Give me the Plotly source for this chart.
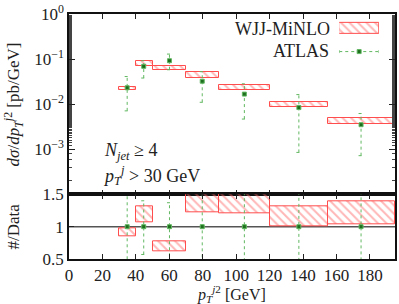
import plotly.graph_objects as go

# ---------------- data ----------------
bin_lo = [30, 40, 50, 70, 90, 120, 155]
bin_hi = [40, 50, 70, 90, 120, 155, 195]
theory_lo = [0.0202, 0.0713, 0.0562, 0.0389, 0.0202, 0.00855, 0.00363]
theory_hi = [0.0235, 0.0904, 0.0713, 0.0526, 0.0269, 0.0114, 0.00498]

data_x = [34.8, 44.7, 60.1, 79.7, 104.9, 137.5, 174.7]
data_y = [0.0231, 0.069, 0.092, 0.0323, 0.0167, 0.0084, 0.0035]
data_lo = [0.0071, 0.038, 0.058, 0.011, 0.00467, 0.00085, 0.00072]
data_hi = [0.041, 0.092, 0.129, 0.0526, 0.0283, 0.0163, 0.0062]

ratio_lo = [0.85, 1.06, 0.62, 1.22, 1.20, 1.00, 1.04]
ratio_hi = [0.97, 1.31, 0.78, 1.63, 1.61, 1.31, 1.39]
ratio_data = [1, 1, 1, 1, 1, 1, 1]
ratio_err_lo = [0.31, 0.57, 0.45, 0.34, 0.28, 0.10, 0.20]
ratio_err_hi = [1.77, 1.40, 1.37, 1.63, 1.69, 1.94, 1.77]

top_tickvals = [1e-3, 1e-2, 1e-1, 1]
top_ticktext = ["10<sup>−3</sup>", "10<sup>−2</sup>", "10<sup>−1</sup>", "10<sup>0</sup>"]
ratio_tickvals = [0.5, 1, 1.5]
ratio_ticktext = ["0.5", "1", "1.5"]
x_tickvals = [0, 20, 40, 60, 80, 100, 120, 140, 160, 180]

# ---------------- style ----------------
FONT = "Liberation Serif"
RED = "#ff4d4d"
HATCH = "#ff6e6e"
GREEN_LINE = "#62b862"
GREEN_MARK = "#1d6e1d"
CAP = 1.5

centers = [(a + b) / 2 for a, b in zip(bin_lo, bin_hi)]
widths = [b - a for a, b in zip(bin_lo, bin_hi)]

PATTERN = dict(shape="\\", fgcolor=HATCH, bgcolor="rgba(0,0,0,0)",
               size=6, solidity=0.33, fillmode="overlay")


def hatched_bar(base, top, xa, ya):
    return go.Bar(
        x=centers, y=[t - b for b, t in zip(base, top)], base=base, width=widths,
        xaxis=xa, yaxis=ya, showlegend=False, hoverinfo="skip",
        marker=dict(color="rgba(0,0,0,0)", line=dict(color=RED, width=1), pattern=PATTERN),
    )


def err_lines(xs, lo, hi, xa, ya):
    ex, ey = [], []
    for x, l, h in zip(xs, lo, hi):
        ex += [x, x, None, x - CAP, x + CAP, None, x - CAP, x + CAP, None]
        ey += [l, h, None, l, l, None, h, h, None]
    return go.Scatter(x=ex, y=ey, mode="lines", xaxis=xa, yaxis=ya,
                      line=dict(color=GREEN_LINE, width=1, dash="dot"),
                      showlegend=False, hoverinfo="skip")


def markers(xs, ys, xa, ya):
    return go.Scatter(x=xs, y=ys, mode="markers", xaxis=xa, yaxis=ya,
                      marker=dict(symbol="square", size=4, color=GREEN_MARK,
                                  line=dict(color=GREEN_LINE, width=1)),
                      showlegend=False, hoverinfo="skip")


fig = go.Figure()
# top panel
fig.add_trace(hatched_bar(theory_lo, theory_hi, "x", "y"))
fig.add_trace(err_lines(data_x, data_lo, data_hi, "x", "y"))
fig.add_trace(markers(data_x, data_y, "x", "y"))
# ratio panel
fig.add_trace(hatched_bar(ratio_lo, ratio_hi, "x2", "y2"))
fig.add_trace(err_lines(data_x, ratio_err_lo, ratio_err_hi, "x2", "y2"))
fig.add_trace(markers(data_x, ratio_data, "x2", "y2"))

# legend samples on a helper axis
fig.add_trace(go.Bar(x=[0.5], y=[0.314], base=[0.629], width=[1], xaxis="x3", yaxis="y3",
                     showlegend=False, hoverinfo="skip",
                     marker=dict(color="rgba(0,0,0,0)", line=dict(color=RED, width=1), pattern=PATTERN)))
fig.add_trace(go.Scatter(x=[0, 1, None, 0, 0, None, 1, 1], y=[0.123, 0.123, None, 0.08, 0.17, None, 0.08, 0.17],
                         mode="lines", xaxis="x3", yaxis="y3",
                         line=dict(color=GREEN_LINE, width=1, dash="dot"),
                         showlegend=False, hoverinfo="skip"))
fig.add_trace(go.Scatter(x=[0.5], y=[0.123], mode="markers", xaxis="x3", yaxis="y3",
                         marker=dict(symbol="square", size=4, color=GREEN_MARK,
                                     line=dict(color=GREEN_LINE, width=1)),
                         showlegend=False, hoverinfo="skip"))

TOP_DOM = [0.264, 1.0]
BOT_DOM = [0.0, 0.264]
tickfont = dict(family=FONT, size=17, color="#222")

common_x = dict(range=[0, 195], tickvals=x_tickvals, ticks="inside", ticklen=5,
                tickcolor="#222", showline=True, linecolor="#111", linewidth=1.5,
                mirror="allticks", showgrid=False, zeroline=False, tickfont=tickfont)

fig.update_layout(
    width=399, height=304,
    margin=dict(l=69, r=2, t=13, b=45),
    paper_bgcolor="white", plot_bgcolor="white",
    barmode="overlay", bargap=0,
    showlegend=False,
    xaxis=dict(**common_x, anchor="y", showticklabels=False, matches="x2"),
    xaxis2=dict(**common_x, anchor="y2"),
    yaxis=dict(type="log", domain=TOP_DOM, range=[-4, 0], anchor="x",
               tickvals=top_tickvals, ticktext=top_ticktext, ticks="inside", ticklen=6,
               tickcolor="#222",
               minor=dict(ticks="inside", ticklen=3, tickcolor="#444", showgrid=False),
               showline=True, linecolor="#111", linewidth=1.5, mirror="allticks",
               showgrid=False, zeroline=False, tickfont=tickfont),
    yaxis2=dict(domain=BOT_DOM, range=[0.5, 1.5], anchor="x2",
                tickvals=ratio_tickvals, ticktext=ratio_ticktext, ticks="inside", ticklen=5,
                tickcolor="#222",
                showline=True, linecolor="#111", linewidth=1.5, mirror=True,
                showgrid=False, zeroline=False, tickfont=tickfont),
    xaxis3=dict(domain=[0.829, 0.951], range=[0, 1], anchor="y3", visible=False, fixedrange=True),
    yaxis3=dict(domain=[0.829, 0.972], range=[0, 1], anchor="x3", visible=False, fixedrange=True),
    shapes=[dict(type="line", xref="x2 domain", yref="y2", x0=0, x1=1, y0=1, y1=1,
                 line=dict(color="#555", width=1.5), layer="below")],
)

afont = dict(family=FONT, size=18, color="#222")
tfont = dict(family=FONT, size=17, color="#222")
annotations = [
    dict(text="WJJ-MiNLO", x=0.808, y=0.940, xanchor="right", yanchor="middle"),
    dict(text="ATLAS", x=0.805, y=0.847, xanchor="right", yanchor="middle"),
    dict(text="<i>N</i><sub><i>jet</i></sub> ≥ 4", x=0.10, y=0.44, xanchor="left", yanchor="middle"),
    dict(text="<i>p</i><sub><i>T</i></sub><sup><i>j</i></sup> > 30 GeV", x=0.098, y=0.34,
         xanchor="left", yanchor="middle"),
    dict(text="<i>dσ</i>/<i>dp</i><sub><i>T</i></sub><sup><i>j</i>2</sup> [pb/GeV]", x=-0.171, y=0.632,
         xanchor="center", yanchor="middle", textangle=-90, font=tfont),
    dict(text="#/Data", x=-0.171, y=0.134, xanchor="center", yanchor="middle", textangle=-90,
         font=tfont),
    dict(text="<i>p</i><sub><i>T</i></sub><sup><i>j</i>2</sup> [GeV]", x=0.497, y=-0.143,
         xanchor="center", yanchor="middle", font=dict(family=FONT, size=16, color="#222")),
]
for a in annotations:
    a.setdefault("font", afont)
    fig.add_annotation(xref="paper", yref="paper", showarrow=False, **a)

fig.write_html("out.html", config={"displayModeBar": False},
               post_script="document.body.style.margin='0';")
